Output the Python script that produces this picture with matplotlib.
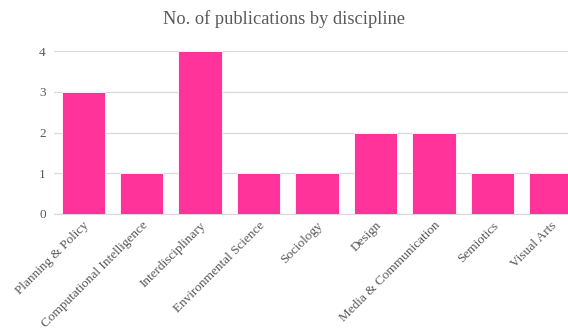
import matplotlib
matplotlib.use("Agg")
import matplotlib.pyplot as plt

categories = ["Planning & Policy", "Computational Intelligence", "Interdisciplinary",
              "Environmental Science", "Sociology", "Design", "Media & Communication",
              "Semiotics", "Visual Arts"]
values = [3, 1, 4, 1, 1, 2, 2, 1, 1]
yticks = [0, 1, 2, 3, 4]

plt.rcParams['font.family'] = ['Liberation Serif', 'DejaVu Serif']
fig = plt.figure(figsize=(5.68, 3.29), dpi=100)
W, H = 568, 329
ax = fig.add_axes([54 / W, 1 - 214 / H, (580 - 54) / W, (214 - 51) / H])
x = list(range(len(categories)))
ax.bar(x, values, width=0.74, color="#FF3399", edgecolor="white", linewidth=0.6, zorder=3)
ax.set_xlim(-0.5, len(categories) - 0.5)
ax.set_ylim(0, 4)
ax.set_yticks(yticks)
ax.set_yticklabels([str(v) for v in yticks], fontsize=9.5, color="#595959")
ax.grid(axis="y", color="#d9d9d9", linewidth=0.9, zorder=0)
for s in ["top", "right", "left"]:
    ax.spines[s].set_visible(False)
ax.spines["bottom"].set_color("#d9d9d9")
ax.tick_params(axis="both", length=0, pad=6)
ax.set_xticks(x)
ax.set_xticklabels(categories, rotation=45, ha="right", rotation_mode="anchor",
                   fontsize=9.5, color="#595959")
ax.tick_params(axis="x", pad=4)
fig.text(284 / W, 1 - 19 / H, "No. of publications by discipline", ha="center", va="center",
         fontsize=13.2, color="#595959")
fig.savefig("out.png", dpi=100)
